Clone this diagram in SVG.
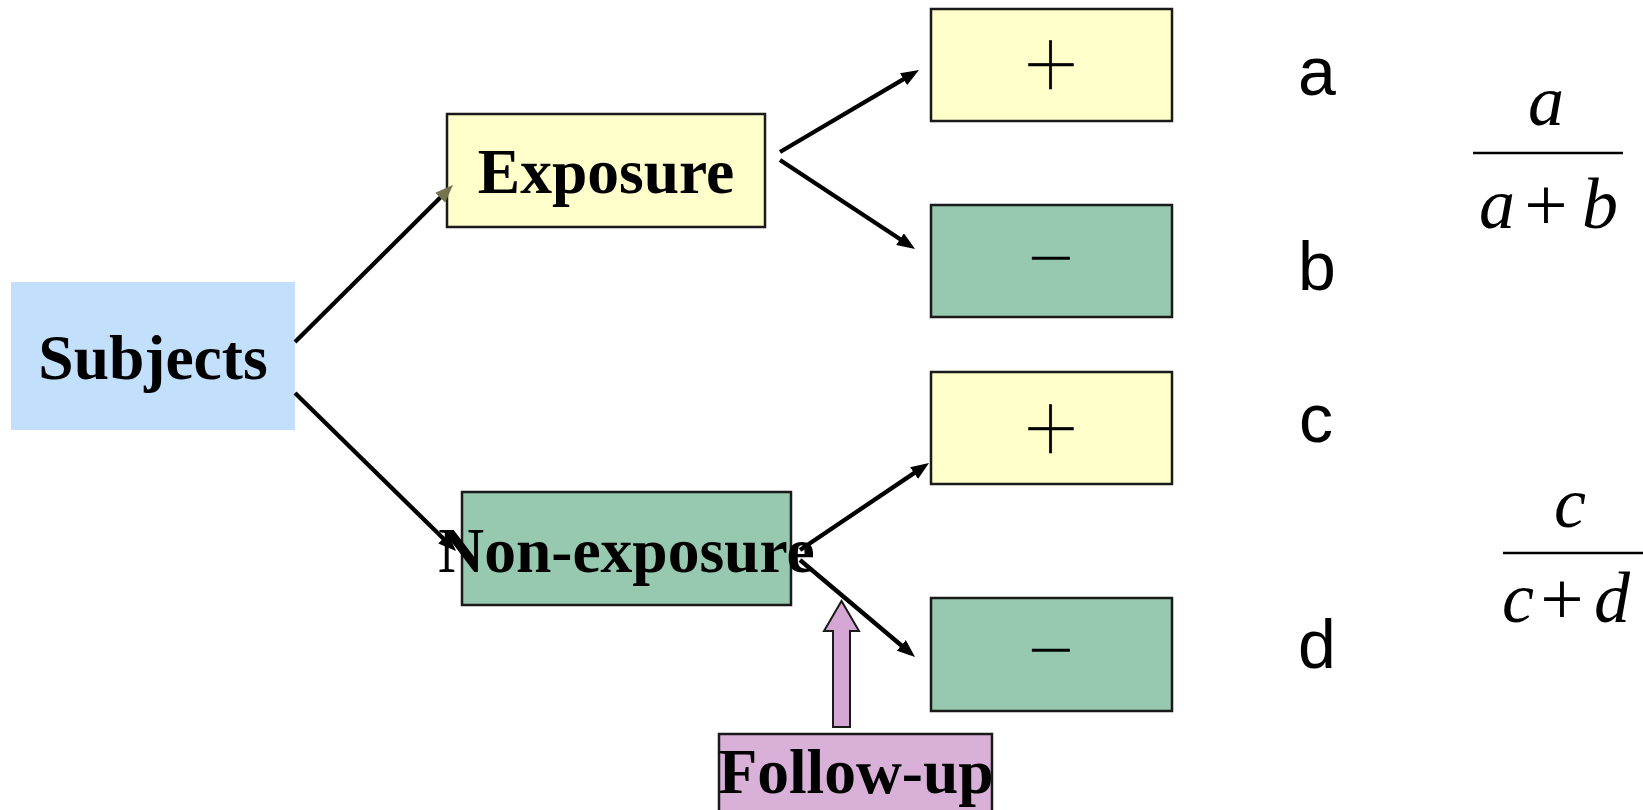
<svg xmlns="http://www.w3.org/2000/svg" width="1643" height="810" viewBox="0 0 1643 810">
<defs>
<style>
.node-title{font-family:"Liberation Serif","Times New Roman",serif;font-weight:bold;font-size:63.5px;fill:#000;text-anchor:middle}
.box{stroke:#1a1a1a;stroke-width:2.5}
.yellow{fill:#ffffcc}
.green{fill:#96c9af}
.sign{font-family:Roboto,Lato,"DejaVu Sans",sans-serif;font-weight:100;font-size:92px;fill:#000;text-anchor:middle;stroke:#000;stroke-width:0.6}
.lbl{font-family:"Liberation Sans",Arial,sans-serif;font-size:68px;fill:#000;text-anchor:middle}
.math{font-family:"Liberation Serif","Times New Roman",serif;font-style:italic;font-size:72px;fill:#000;text-anchor:middle}
.mop{font-family:"Liberation Serif","Times New Roman",serif;font-size:77px;fill:#000;text-anchor:middle}
.conn{stroke:#000;stroke-width:4.3;fill:none;marker-end:url(#ah)}
.frac{stroke:#000;stroke-width:2.5}
</style>
<marker id="ah" markerUnits="userSpaceOnUse" markerWidth="18" markerHeight="14" refX="8" refY="7" orient="auto">
<path d="M0,0 L18,7 L0,14 z" fill="#000"/>
</marker>
<marker id="ah-olive" markerUnits="userSpaceOnUse" markerWidth="18" markerHeight="14" refX="8" refY="7" orient="auto">
<path d="M0,0 L18,7 L0,14 z" fill="#74744c"/>
</marker>
</defs>
<rect width="1643" height="810" fill="#fff"/>

<g id="subjects">
<rect x="11" y="282" width="284" height="148" fill="#c2e0fc"/>
<text class="node-title" x="153" y="379">Subjects</text>
</g>

<g id="exposure">
<rect class="box yellow" x="447" y="114" width="318" height="113"/>
<text class="node-title" x="606" y="193">Exposure</text>
</g>

<g id="non-exposure">
<rect class="box green" x="462" y="492" width="329" height="113"/>
<text class="node-title" x="626.5" y="572">Non-exposure</text>
</g>

<g id="exp-pos">
<rect class="box yellow" x="931" y="9" width="241" height="112"/>
<text class="sign" x="1051" y="95">+</text>
</g>

<g id="exp-neg">
<rect class="box green" x="931" y="205" width="241" height="112"/>
<text class="sign" x="1051" y="292">−</text>
</g>

<g id="nonexp-pos">
<rect class="box yellow" x="931" y="372" width="241" height="112"/>
<text class="sign" x="1051" y="459">+</text>
</g>

<g id="nonexp-neg">
<rect class="box green" x="931" y="598" width="241" height="113"/>
<text class="sign" x="1051" y="684">−</text>
</g>

<g id="follow-up">
<path d="M833,727 L833,631 L824,631 L841.5,601 L859,631 L850,631 L850,727 Z" fill="#d3a6d3" stroke="#1a1a1a" stroke-width="2"/>
<rect x="719" y="734" width="273" height="80" fill="#d8b0d8" stroke="#1a1a1a" stroke-width="2.5"/>
<text class="node-title" x="856" y="793">Follow-up</text>
</g>

<g id="labels">
<text class="lbl" x="1317" y="95">a</text>
<text class="lbl" x="1317" y="290">b</text>
<text class="lbl" x="1316" y="442">c</text>
<text class="lbl" x="1317" y="668">d</text>
</g>

<g id="fraction-ab">
<text class="math" x="1546" y="125">a</text>
<line class="frac" x1="1473" y1="153" x2="1623" y2="153"/>
<text class="math" x="1497" y="228">a</text>
<text class="mop" x="1546" y="230">+</text>
<text class="math" x="1600" y="228">b</text>
</g>

<g id="fraction-cd">
<text class="math" x="1570" y="527">c</text>
<line class="frac" x1="1503" y1="553" x2="1643" y2="553"/>
<text class="math" x="1518" y="622">c</text>
<text class="mop" x="1562" y="624">+</text>
<text class="math" x="1612" y="622">d</text>
</g>

<g id="connectors">
<line class="conn" x1="295" y1="342" x2="445.9" y2="192" style="marker-end:url(#ah-olive)"/>
<line class="conn" x1="295" y1="393" x2="448.9" y2="544"/>
<line class="conn" x1="780" y1="152" x2="910.4" y2="75.1"/>
<line class="conn" x1="780" y1="160" x2="906.7" y2="243.5"/>
<line class="conn" x1="800" y1="550" x2="920.7" y2="468.6"/>
<line class="conn" x1="800" y1="560" x2="907.4" y2="650.5"/>
</g>
</svg>
